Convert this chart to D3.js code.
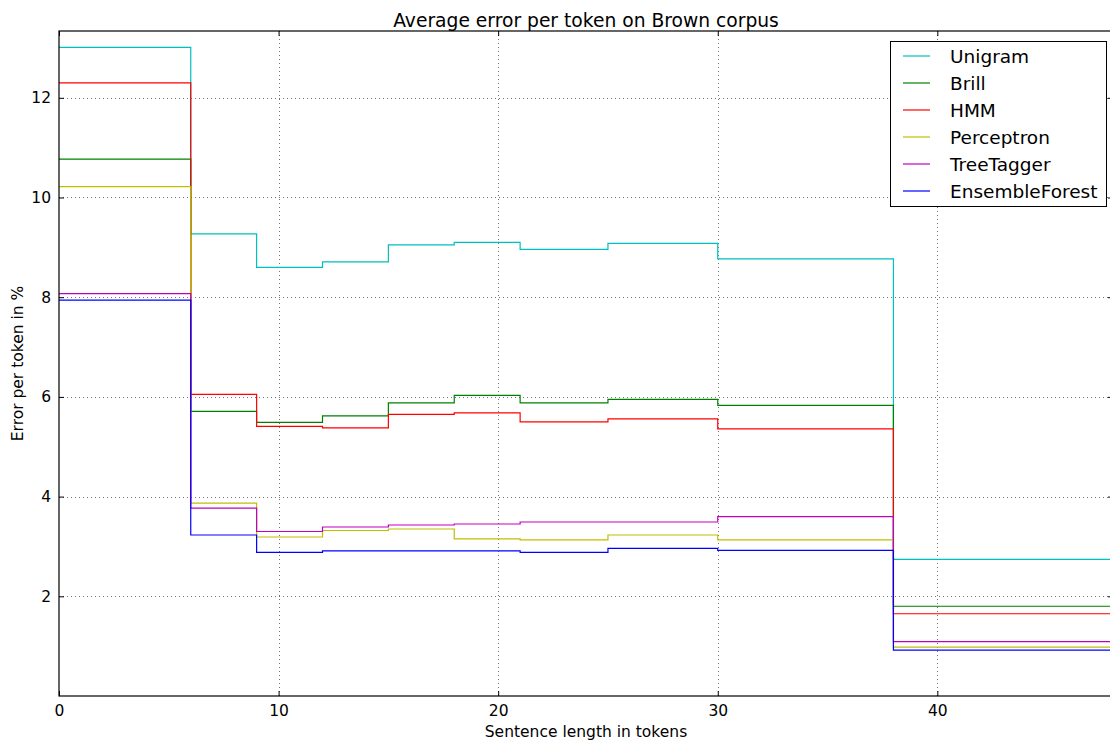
<!DOCTYPE html>
<html>
<head>
<meta charset="utf-8">
<script src="https://cdn.jsdelivr.net/npm/d3@7"></script>
<style>
  body { margin: 0; background: #fff; }
  svg { display: block; font-family: "DejaVu Sans", sans-serif; }
</style>
</head>
<body>
<svg id="chart" width="1110" height="740"></svg>
<script>
// Bin start positions (sentence length in tokens); last value extends to xEnd
const binStarts = [0, 6, 9, 12, 15, 18, 21, 25, 30, 38];
const xEnd = 48;

const seriesNames = ["Unigram", "Brill", "HMM", "Perceptron", "TreeTagger", "EnsembleForest"];
const seriesColors = ["#00BFBF", "#008000", "#FF0000", "#BFBF00", "#BF00BF", "#0000FF"];

const unigram        = [13.01, 9.27, 8.60, 8.71, 9.05, 9.10, 8.96, 9.08, 8.77, 2.74];
const brill          = [10.77, 5.71, 5.49, 5.62, 5.88, 6.03, 5.88, 5.95, 5.83, 1.80];
const hmm            = [12.30, 6.05, 5.41, 5.38, 5.65, 5.68, 5.50, 5.56, 5.36, 1.65];
const perceptron     = [10.22, 3.87, 3.19, 3.32, 3.35, 3.15, 3.13, 3.23, 3.13, 0.98];
const treeTagger     = [8.07, 3.77, 3.30, 3.39, 3.43, 3.45, 3.49, 3.49, 3.60, 1.09];
const ensembleForest = [7.94, 3.23, 2.88, 2.91, 2.91, 2.91, 2.88, 2.96, 2.92, 0.92];

const xTicks = [0, 10, 20, 30, 40];
const yTicks = [2, 4, 6, 8, 10, 12];

const seriesValues = [unigram, brill, hmm, perceptron, treeTagger, ensembleForest];

const svg = d3.select("#chart");
const W = 1110, H = 740;
const plotLeft = 59, plotRight = 1113, plotTop = 31, plotBottom = 696;

const x = d3.scaleLinear().domain([0, xEnd]).range([plotLeft, plotRight]);
const y = d3.scaleLinear().domain([0, 13.34]).range([plotBottom, plotTop]);

// grid
const grid = svg.append("g").attr("stroke", "#000").attr("stroke-opacity", 0.55)
  .attr("stroke-width", 1).attr("stroke-dasharray", "1,3");
grid.selectAll(".gx").data(xTicks.filter(d => d > 0)).join("line")
  .attr("x1", d => Math.round(x(d)) + 0.5).attr("x2", d => Math.round(x(d)) + 0.5)
  .attr("y1", y.range()[1]).attr("y2", y.range()[0]);
grid.selectAll(".gy").data(yTicks).join("line")
  .attr("y1", d => Math.round(y(d)) + 0.5).attr("y2", d => Math.round(y(d)) + 0.5)
  .attr("x1", x.range()[0]).attr("x2", x.range()[1]);

// step lines
const line = d3.line()
  .x(d => x(d[0]))
  .y(d => y(d[1]))
  .curve(d3.curveStepAfter);

svg.append("clipPath").attr("id", "plotclip").append("rect")
  .attr("x", x.range()[0]).attr("y", y.range()[1])
  .attr("width", x.range()[1] - x.range()[0]).attr("height", y.range()[0] - y.range()[1]);

const linesG = svg.append("g").attr("clip-path", "url(#plotclip)");
seriesValues.forEach((vals, i) => {
  const pts = binStarts.map((b, j) => [b, vals[j]]);
  pts.push([xEnd, vals[vals.length - 1]]);
  linesG.append("path").datum(pts)
    .attr("fill", "none")
    .attr("stroke", seriesColors[i])
    .attr("stroke-width", 1.2)
    .attr("d", line);
});

// axes (ticks inward)
const axBottom = svg.append("g").attr("transform", `translate(0,${y.range()[0]})`)
  .call(d3.axisBottom(x).tickValues(xTicks).tickSize(-5).tickPadding(9).tickFormat(d3.format("d")));
const axTop = svg.append("g").attr("transform", `translate(0,${y.range()[1]})`)
  .call(d3.axisTop(x).tickValues(xTicks).tickSize(-5).tickFormat(""));
const axLeft = svg.append("g").attr("transform", `translate(${x.range()[0]},0)`)
  .call(d3.axisLeft(y).tickValues(yTicks).tickSize(-5).tickPadding(8).tickFormat(d3.format("d")));
const axRight = svg.append("g").attr("transform", `translate(${x.range()[1]},0)`)
  .call(d3.axisRight(y).tickValues(yTicks).tickSize(-5).tickFormat(""));

[axBottom, axTop, axLeft, axRight].forEach(a => {
  a.select(".domain").remove();
  a.selectAll("line").attr("stroke", "#000");
  a.selectAll("text").attr("font-size", 15.5).attr("fill", "#000")
    .attr("font-family", "DejaVu Sans, sans-serif");
});

// frame
svg.append("rect")
  .attr("x", x.range()[0]).attr("y", y.range()[1])
  .attr("width", x.range()[1] - x.range()[0]).attr("height", y.range()[0] - y.range()[1])
  .attr("fill", "none").attr("stroke", "#000").attr("stroke-width", 1.2);

// title & labels
const cx = (x.range()[0] + x.range()[1]) / 2;
svg.append("text").attr("x", cx).attr("y", 20)
  .attr("text-anchor", "middle").attr("dominant-baseline", "central")
  .attr("font-size", 18.7).text("Average error per token on Brown corpus");
svg.append("text").attr("x", cx).attr("y", 732)
  .attr("text-anchor", "middle").attr("dominant-baseline", "central")
  .attr("font-size", 15.5).text("Sentence length in tokens");
svg.append("text").attr("transform", `translate(18,${(y.range()[0] + y.range()[1]) / 2}) rotate(-90)`)
  .attr("text-anchor", "middle").attr("dominant-baseline", "central")
  .attr("font-size", 15.5).text("Error per token in %");

// legend
const lg = svg.append("g");
lg.append("rect").attr("x", 890.5).attr("y", 41.5).attr("width", 216).attr("height", 165)
  .attr("fill", "#fff").attr("stroke", "#000").attr("stroke-width", 1);
seriesNames.forEach((name, i) => {
  const cy = 56 + i * 27;
  lg.append("line").attr("x1", 903).attr("x2", 930).attr("y1", cy).attr("y2", cy)
    .attr("stroke", seriesColors[i]).attr("stroke-width", 1.2);
  lg.append("text").attr("x", 950).attr("y", cy).attr("dominant-baseline", "central")
    .attr("font-size", 18.5).text(name);
});
</script>
</body>
</html>
